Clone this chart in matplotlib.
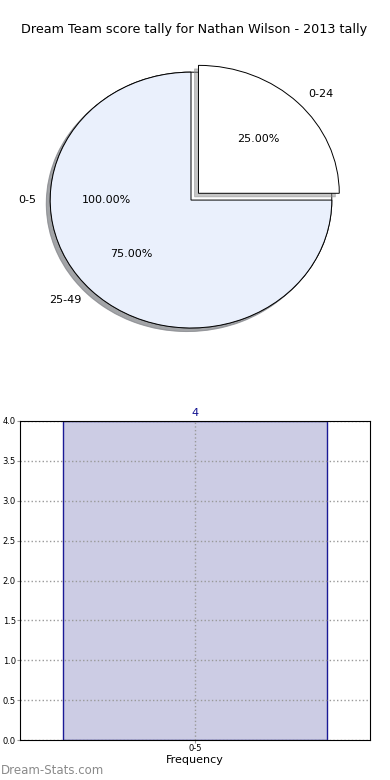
import matplotlib
matplotlib.use("Agg")
import matplotlib.pyplot as plt

title = "Dream Team score tally for Nathan Wilson - 2013 tally"

# pie drawn twice, like the original page does
base_labels = ["0-5"]
base_values = [1]
pie_labels = ["0-24", "25-49"]
pie_values = [1, 3]
pie_colors = ["white", "#eaf0fc"]

# frequency bar
bar_labels = ["0-5"]
bar_values = [4]

fig = plt.figure(figsize=(3.9, 7.8), dpi=100)

fig.text(0.497, 1 - 30 / 780.0, title, ha="center", va="center", fontsize=9.2)

# --- pie ---
ax1 = fig.add_axes([15 / 390.0, 0.5385, 352 / 390.0, 0.41])
wp = {"edgecolor": "black", "linewidth": 0.7}
shd = {"shade": 0.45}
w0, t0, a0 = ax1.pie(base_values, labels=base_labels, colors=["white"], autopct="%.2f%%",
                     shadow=shd, wedgeprops=wp, textprops={"fontsize": 8})
wp2 = dict(wp, zorder=3)
w, t, a = ax1.pie(pie_values, labels=pie_labels, colors=pie_colors, autopct="%.2f%%",
                  explode=[0.075, 0], shadow=shd, wedgeprops=wp2,
                  textprops={"fontsize": 8})
for txt in list(t0) + list(a0) + list(t) + list(a):
    txt.set_zorder(5)
ax1.set_aspect("auto")
ax1.set_xlim(-1.25, 1.25)
ax1.set_ylim(-1.25, 1.25)
ax1.axis("off")

# --- bar ---
ax2 = fig.add_axes([20 / 390.0, 40 / 780.0, 350 / 390.0, 319 / 780.0])
xs = list(range(len(bar_labels)))
ax2.bar(xs, bar_values, width=0.757, color="#ccccE4", edgecolor="#1a1a96", linewidth=1, zorder=1)
for x, v in zip(xs, bar_values):
    ax2.annotate(str(v), (x, v), xytext=(0, 2), textcoords="offset points",
                 ha="center", va="bottom", color="#101090", fontsize=8, annotation_clip=False)
ax2.set_xlim(-0.5, 0.5)
ax2.set_ylim(0, 4)
ax2.set_xticks(xs)
ax2.set_xticklabels(bar_labels, fontsize=6)
ax2.set_yticks([i * 0.5 for i in range(9)])
ax2.tick_params(axis="y", labelsize=6, length=2, color="#999999", pad=1)
ax2.tick_params(axis="x", length=2, color="#999999", pad=1)
ax2.set_axisbelow("line")
ax2.grid(True, linestyle=":", color="#999999", linewidth=1)
ax2.set_xlabel("Frequency", fontsize=8, labelpad=1)

fig.text(0.002, 1 - 770 / 780.0, "Dream-Stats.com", color="#8a8a8a", fontsize=8.5,
         ha="left", va="center")

fig.savefig("out.png", dpi=100)
